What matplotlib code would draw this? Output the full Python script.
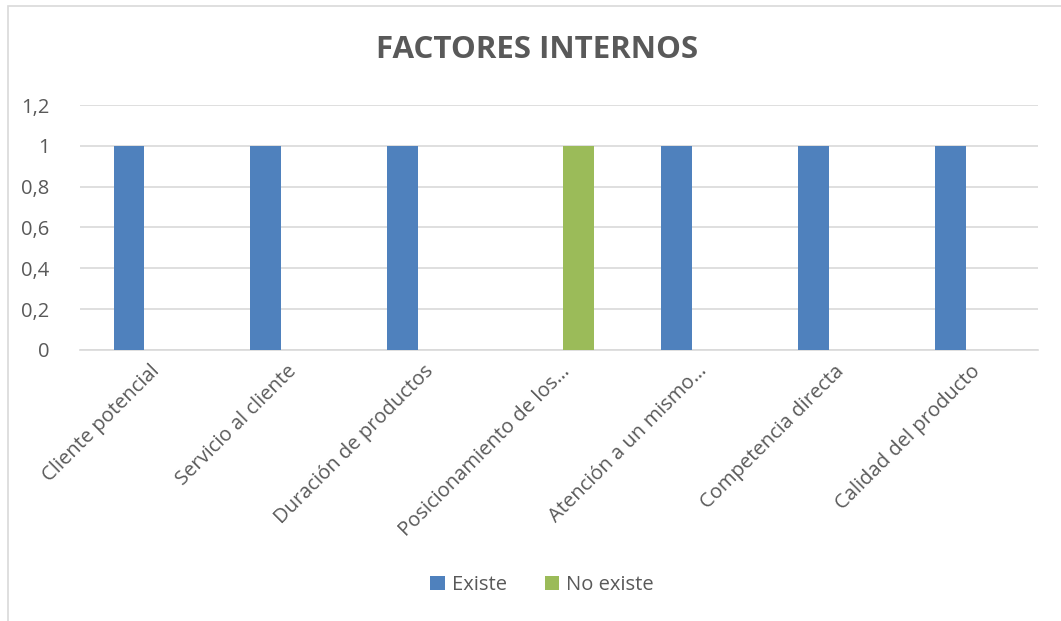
import numpy as np
import matplotlib.pyplot as plt
from matplotlib.patches import Rectangle

categorias = ['Cliente potencial', 'Servicio al cliente', 'Duración de productos',
              'Posicionamiento de los…', 'Atención a un mismo…',
              'Competencia directa', 'Calidad del producto']
existe = [1, 1, 1, 0, 1, 1, 1]
no_existe = [0, 0, 0, 1, 0, 0, 0]
series = ['Existe', 'No existe']

azul = '#4F81BD'
verde = '#9BBB59'
gris_txt = '#595959'

plt.rcParams['font.family'] = ['Open Sans', 'DejaVu Sans']

fig = plt.figure(figsize=(10.61, 6.21), dpi=100)
ax = fig.add_axes([80/1061, 1-350/621, (1038-80)/1061, (350-105)/621])

x = np.arange(len(categorias))
w = 0.226
ax.bar(x - 0.142, existe, w, color=azul, label=series[0], zorder=3)
ax.bar(x + 0.142, no_existe, w, color=verde, label=series[1], zorder=3)

ax.set_xlim(-0.5, len(categorias) - 0.5)
ax.set_ylim(0, 1.2)
yt = np.arange(0, 1.21, 0.2)
ax.set_yticks(yt)
ax.set_yticklabels(['0', '0,2', '0,4', '0,6', '0,8', '1', '1,2'])
ax.yaxis.grid(True, color='#D9D9D9', linewidth=1.2, zorder=0)
for s in ['top', 'right', 'left']:
    ax.spines[s].set_visible(False)
ax.spines['bottom'].set_color('#D9D9D9')
ax.spines['bottom'].set_linewidth(1.2)
ax.tick_params(axis='y', length=0, labelsize=14.5, labelcolor=gris_txt, pad=22)
ax.tick_params(axis='x', length=0)
ax.set_xticks(x)
ax.set_xticklabels([])
for i, c in enumerate(categorias):
    ax.text(i + 0.06, -0.09, c, rotation=45, ha='right', va='center',
            rotation_mode='anchor', fontsize=14.5, color=gris_txt)

fig.text(537/1061, 1-50/621, 'FACTORES INTERNOS', ha='center', va='center',
         fontsize=22.5, fontweight='bold', color=gris_txt)

leg = fig.legend(loc='center', bbox_to_anchor=(542/1061, 1-585/621), ncol=2,
                 frameon=False, fontsize=14.5, handlelength=0.7, handleheight=0.7,
                 handletextpad=0.35, columnspacing=1.9)
for t in leg.get_texts():
    t.set_color(gris_txt)

fig.patches.append(Rectangle((8/1061, -0.01), 1.0, 1-6/621 + 0.01, transform=fig.transFigure,
                             fill=False, edgecolor='#D9D9D9', linewidth=1.2))

fig.savefig('out.png', dpi=100)
